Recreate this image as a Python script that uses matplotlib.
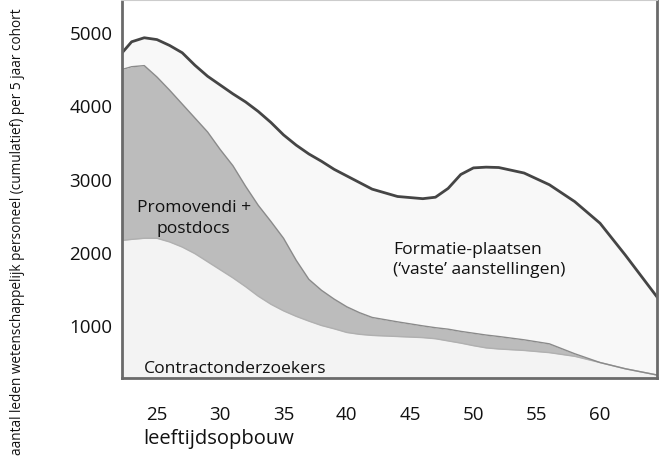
import numpy as np
import matplotlib
matplotlib.use("Agg")
import matplotlib.pyplot as plt

plt.rcParams['font.family'] = ['Open Sans', 'DejaVu Sans']

# leeftijd (jaar) en aantallen per laag (niet cumulatief)
leeftijd = [22.2, 23, 24, 25, 26, 27, 28, 29, 30, 31, 32, 33, 34, 35, 36, 37, 38,
            39, 40, 41, 42, 44, 46, 47, 48, 49, 50, 51, 52, 54, 56, 58, 60, 62, 64.5]
contract = [2170, 2185, 2200, 2200, 2150, 2080, 1990, 1880, 1770, 1660, 1540, 1410,
            1300, 1210, 1135, 1070, 1010, 965, 915, 890, 875, 860, 845, 830, 800,
            770, 735, 705, 690, 670, 640, 590, 505, 420, 335]
promovendi = [2330, 2355, 2355, 2200, 2070, 1950, 1850, 1770, 1640, 1530, 1370, 1240,
              1130, 990, 765, 570, 480, 405, 350, 295, 245, 200, 160, 150, 160,
              160, 170, 175, 170, 145, 120, 35, 0, 0, 0]
formatie = [220, 340, 380, 510, 610, 700, 720, 760, 880, 980, 1150, 1280, 1350, 1410,
            1570, 1710, 1760, 1770, 1785, 1775, 1750, 1710, 1735, 1780, 1920, 2140,
            2255, 2290, 2305, 2275, 2170, 2075, 1900, 1550, 1065]

x_ticks = [25, 30, 35, 40, 45, 50, 55, 60]
y_ticks = [1000, 2000, 3000, 4000, 5000]

x = np.array(leeftijd)
c_top = np.array(contract)
p_top = c_top + np.array(promovendi)
t_top = p_top + np.array(formatie)

fig = plt.figure(figsize=(6.6, 4.61), dpi=100)
ax = fig.add_axes([122 / 660, 83 / 461, 535 / 660, 378 / 461])

ax.fill_between(x, 0, c_top, color='#f3f3f3', lw=0)
ax.fill_between(x, c_top, p_top, color='#bcbcbc', lw=0)
ax.fill_between(x, p_top, t_top, color='#f8f8f8', lw=0)
ax.plot(x, c_top, color='#b0b0b0', lw=1)
ax.plot(x, p_top, color='#8a8a8a', lw=1)
ax.plot(x, t_top, color='#454545', lw=2)

ax.set_xlim(22.24, 64.5)
ax.set_ylim(294, 5450)
ax.set_xticks(x_ticks)
ax.set_yticks(y_ticks)
ax.tick_params(length=0, labelsize=13.5, colors='#111111')
ax.tick_params(axis='x', pad=20)
ax.tick_params(axis='y', pad=7)

for side in ['left', 'bottom', 'right']:
    ax.spines[side].set_color('#6a6a6a')
    ax.spines[side].set_linewidth(2)
ax.spines['top'].set_color('#cccccc')
ax.spines['top'].set_linewidth(1.5)

ax.text(27.9, 2470, "Promovendi +\npostdocs", ha='center', va='center',
        fontsize=12.6, linespacing=1.4, color='#111111')
ax.text(43.65, 1900, "Formatie-plaatsen\n(‘vaste’ aanstellingen)", ha='left',
        va='center', fontsize=12.6, linespacing=1.35, color='#111111')
ax.text(24.0, 410, "Contractonderzoekers", ha='left', va='center',
        fontsize=12.6, color='#111111')

fig.text(143 / 660, 22 / 461, "leeftijdsopbouw", ha='left', va='center',
         fontsize=14.5, color='#111111')
fig.text(18 / 660, 0.497, "aantal leden wetenschappelijk personeel (cumulatief) per 5 jaar cohort",
         rotation=90, ha='center', va='center', fontsize=9.8, color='#111111')

fig.savefig("out.png", dpi=100, facecolor='white')
